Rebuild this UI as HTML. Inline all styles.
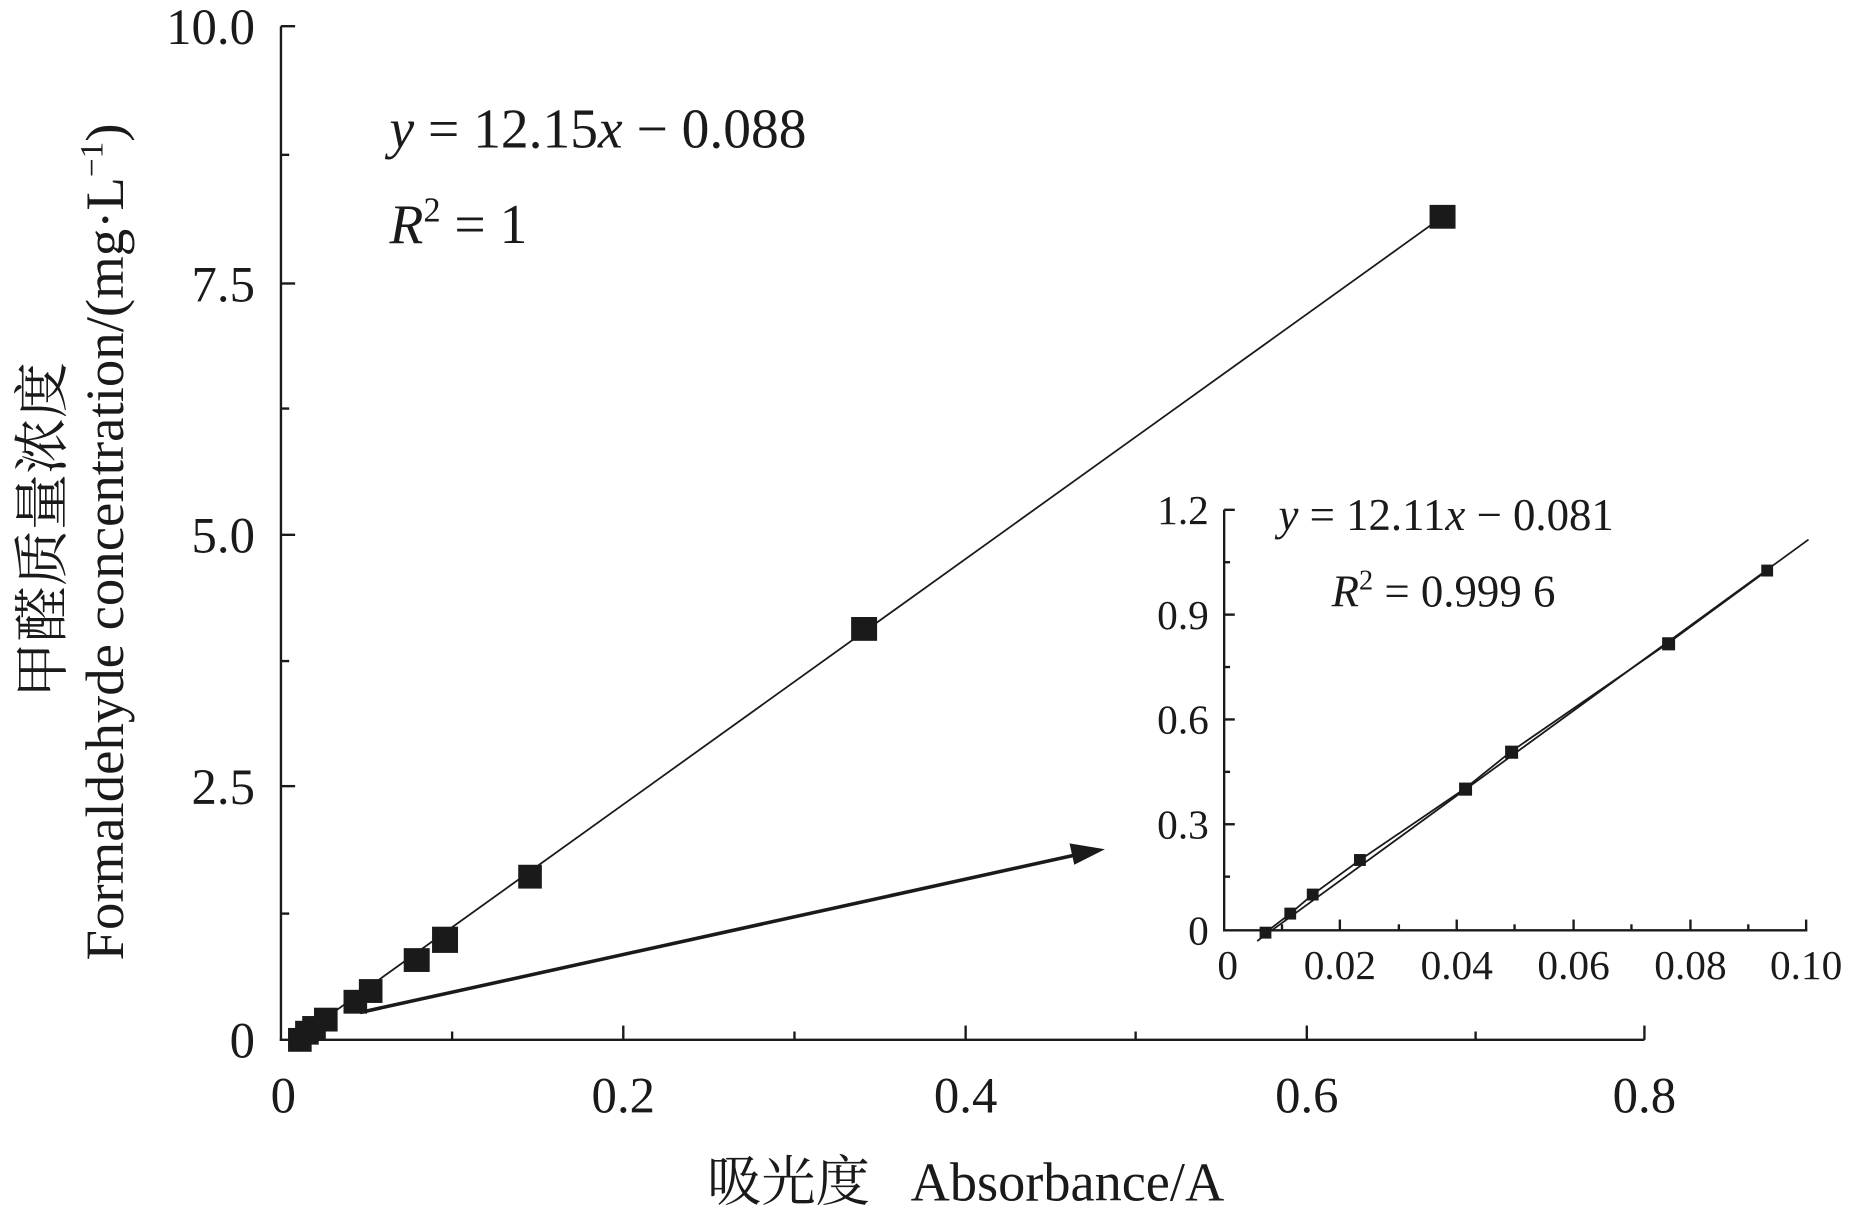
<!DOCTYPE html>
<html><head><meta charset="utf-8"><style>
html,body{margin:0;padding:0;background:#fff;}
svg{display:block}
text{font-family:"Liberation Serif","Noto Serif CJK SC","Noto Sans CJK SC",serif;fill:#1a1a1a}
</style></head><body>
<svg width="1851" height="1209" viewBox="0 0 1568 1015" preserveAspectRatio="none" xmlns="http://www.w3.org/2000/svg">
<g stroke="#1a1a1a" stroke-width="2" fill="none">
<line x1="238" y1="22" x2="238" y2="874"/>
<line x1="237" y1="873" x2="1393" y2="873"/>
<line x1="238" y1="22" x2="250" y2="22"/>
<line x1="238" y1="238" x2="250" y2="238"/>
<line x1="238" y1="449" x2="250" y2="449"/>
<line x1="238" y1="660" x2="250" y2="660"/>
<line x1="238" y1="130" x2="245" y2="130"/>
<line x1="238" y1="343" x2="245" y2="343"/>
<line x1="238" y1="555" x2="245" y2="555"/>
<line x1="238" y1="767" x2="245" y2="767"/>
<line x1="528" y1="873" x2="528" y2="861"/>
<line x1="818" y1="873" x2="818" y2="861"/>
<line x1="1107" y1="873" x2="1107" y2="861"/>
<line x1="1393" y1="873" x2="1393" y2="861"/>
<line x1="383" y1="873" x2="383" y2="866"/>
<line x1="673" y1="873" x2="673" y2="866"/>
<line x1="962" y1="873" x2="962" y2="866"/>
<line x1="1250" y1="873" x2="1250" y2="866"/>
<line x1="250" y1="873" x2="1222" y2="182" stroke-width="1.5"/>
<line x1="305" y1="850" x2="910" y2="718" stroke-width="3"/>
</g>
<polygon points="936,713 906,708 910,726" fill="#1a1a1a"/>
<g fill="#1a1a1a">
<rect x="244" y="863" width="20" height="20"/>
<rect x="250" y="857" width="20" height="20"/>
<rect x="256" y="853" width="20" height="20"/>
<rect x="266" y="846" width="20" height="20"/>
<rect x="291" y="831" width="20" height="20"/>
<rect x="304" y="822" width="20" height="20"/>
<rect x="342" y="796" width="22" height="20"/>
<rect x="366" y="778" width="22" height="22"/>
<rect x="439" y="726" width="20" height="20"/>
<rect x="721" y="518" width="22" height="20"/>
<rect x="1211" y="172" width="22" height="20"/>
</g>
<g font-size="43" text-anchor="end">
<text x="216" y="37">10.0</text>
<text x="216" y="253">7.5</text>
<text x="216" y="464">5.0</text>
<text x="216" y="675">2.5</text>
<text x="216" y="888">0</text>
</g>
<g font-size="43" text-anchor="middle">
<text x="240" y="934">0</text>
<text x="528" y="934">0.2</text>
<text x="818" y="934">0.4</text>
<text x="1107" y="934">0.6</text>
<text x="1393" y="934">0.8</text>
</g>
<text x="818" y="1008" font-size="46" text-anchor="middle" xml:space="preserve">吸光度   Absorbance/A</text>
<text transform="translate(52,445) rotate(-90)" font-size="47" text-anchor="middle">甲醛质量浓度</text>
<text transform="translate(104,455) rotate(-90)" font-size="46" text-anchor="middle">Formaldehyde concentration/(mg·L<tspan dy="-17" font-size="28">−1</tspan><tspan dy="17">)</tspan></text>
<text x="330" y="124" font-size="47"><tspan font-style="italic">y</tspan> = 12.15<tspan font-style="italic">x</tspan> − 0.088</text>
<text x="330" y="204" font-size="47"><tspan font-style="italic">R</tspan><tspan dy="-18" font-size="29">2</tspan><tspan dy="18"> = 1</tspan></text>
<g stroke="#1a1a1a" stroke-width="2" fill="none">
<line x1="1037" y1="428" x2="1037" y2="782"/>
<line x1="1036" y1="781" x2="1531" y2="781"/>
<line x1="1037" y1="428" x2="1046" y2="428"/>
<line x1="1037" y1="516" x2="1046" y2="516"/>
<line x1="1037" y1="604" x2="1046" y2="604"/>
<line x1="1037" y1="692" x2="1046" y2="692"/>
<line x1="1037" y1="472" x2="1042" y2="472"/>
<line x1="1037" y1="560" x2="1042" y2="560"/>
<line x1="1037" y1="648" x2="1042" y2="648"/>
<line x1="1037" y1="736" x2="1042" y2="736"/>
<line x1="1135" y1="781" x2="1135" y2="772"/>
<line x1="1234" y1="781" x2="1234" y2="772"/>
<line x1="1333" y1="781" x2="1333" y2="772"/>
<line x1="1432" y1="781" x2="1432" y2="772"/>
<line x1="1530" y1="781" x2="1530" y2="772"/>
<line x1="1086" y1="781" x2="1086" y2="776"/>
<line x1="1185" y1="781" x2="1185" y2="776"/>
<line x1="1283" y1="781" x2="1283" y2="776"/>
<line x1="1382" y1="781" x2="1382" y2="776"/>
<line x1="1481" y1="781" x2="1481" y2="776"/>
<line x1="1065" y1="790" x2="1532" y2="453" stroke-width="1.5"/>
<polyline points="1072,783 1093,767 1112,751 1152,722 1241,662 1280,631 1413,540 1497,479" stroke-width="1.5"/>
</g>
<g fill="#1a1a1a">
<rect x="1067" y="778" width="10" height="10"/>
<rect x="1088" y="762" width="10" height="10"/>
<rect x="1107" y="746" width="10" height="10"/>
<rect x="1147" y="717" width="10" height="10"/>
<rect x="1236" y="657" width="11" height="11"/>
<rect x="1275" y="626" width="11" height="11"/>
<rect x="1408" y="535" width="11" height="11"/>
<rect x="1492" y="474" width="10" height="10"/>
</g>
<g font-size="35" text-anchor="end">
<text x="1024" y="440">1.2</text>
<text x="1024" y="528">0.9</text>
<text x="1024" y="616">0.6</text>
<text x="1024" y="704">0.3</text>
<text x="1024" y="793">0</text>
</g>
<g font-size="35" text-anchor="middle">
<text x="1040" y="822">0</text>
<text x="1135" y="822">0.02</text>
<text x="1234" y="822">0.04</text>
<text x="1333" y="822">0.06</text>
<text x="1432" y="822">0.08</text>
<text x="1530" y="822">0.10</text>
</g>
<text x="1083" y="445" font-size="38"><tspan font-style="italic">y</tspan> = 12.11<tspan font-style="italic">x</tspan> − 0.081</text>
<text x="1128" y="509" font-size="38"><tspan font-style="italic">R</tspan><tspan dy="-14" font-size="24">2</tspan><tspan dy="14"> = 0.999 6</tspan></text>
</svg>
</body></html>
